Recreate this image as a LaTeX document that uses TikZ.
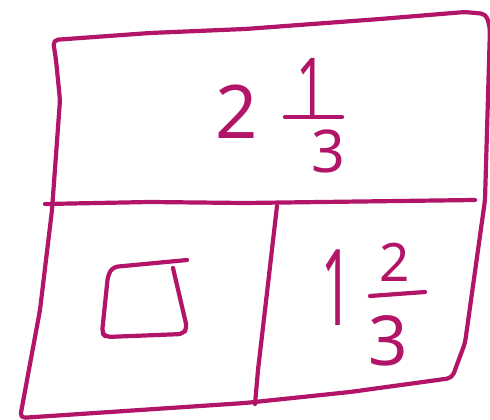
\documentclass[tikz,border=0pt]{standalone}
\usepackage{fontspec}
\usepackage{tikz}
\usepackage{graphicx}
\usepackage{xcolor}
\newfontfamily\penfont{Noto Sans}
\definecolor{pen}{RGB}{178,20,104}
\newcommand{\digitsize}[1]{\penfont\fontsize{#1}{#1}\selectfont}

\begin{document}
\begin{tikzpicture}[x=1pt,y=-1pt,
    ink/.style={draw=pen,line width=4.2pt,line cap=round,line join=round,rounded corners=5pt},
    digit/.style={text=pen,inner sep=0pt,anchor=base}]
    \useasboundingbox (0,0) rectangle (490,420);
    % outer box
    \draw[ink] (53,40)--(150,33)--(245,29)--(380,19)--(465,12)--(486,14)--(490,28)--(485,200)--(465,343)--(452,378)--(350,392)--(245,403)--(20,418)--(40,310)--(52,210)--(60,100)--(56,60)--cycle;
    % middle line and divider
    \draw[ink] (45,204)--(150,202)--(245,203)--(475,200);
    \draw[ink] (277,206)--(265,310)--(258,370)--(255,404);
    % top: 2 1/3
    \node[digit,font=\digitsize{74}] (whole) at (237,138) {2};
    \node[digit,font=\digitsize{80}] (num) at (311,115) {\scalebox{0.65}[1]{1}};
    \node[digit,font=\digitsize{59}] (den) at (328,172) {3};
    \draw[ink] (285,117)--(342,117);
    % bottom left: empty box
    \draw[ink] (187,260)--(113,267)--(108,275)--(102,333)--(106,337)--(183,334)--(187,328)--(173,268);
    % bottom right: 1 2/3
    \node[digit,font=\digitsize{106}] (whole2) at (337,325) {\scalebox{0.5}[1]{1}};
    \node[digit,font=\digitsize{53}] (num2) at (395,281) {2};
    \node[digit,font=\digitsize{69}] (den2) at (388,365) {3};
    \draw[ink] (370,296)--(425,292);
\end{tikzpicture}
\end{document}
